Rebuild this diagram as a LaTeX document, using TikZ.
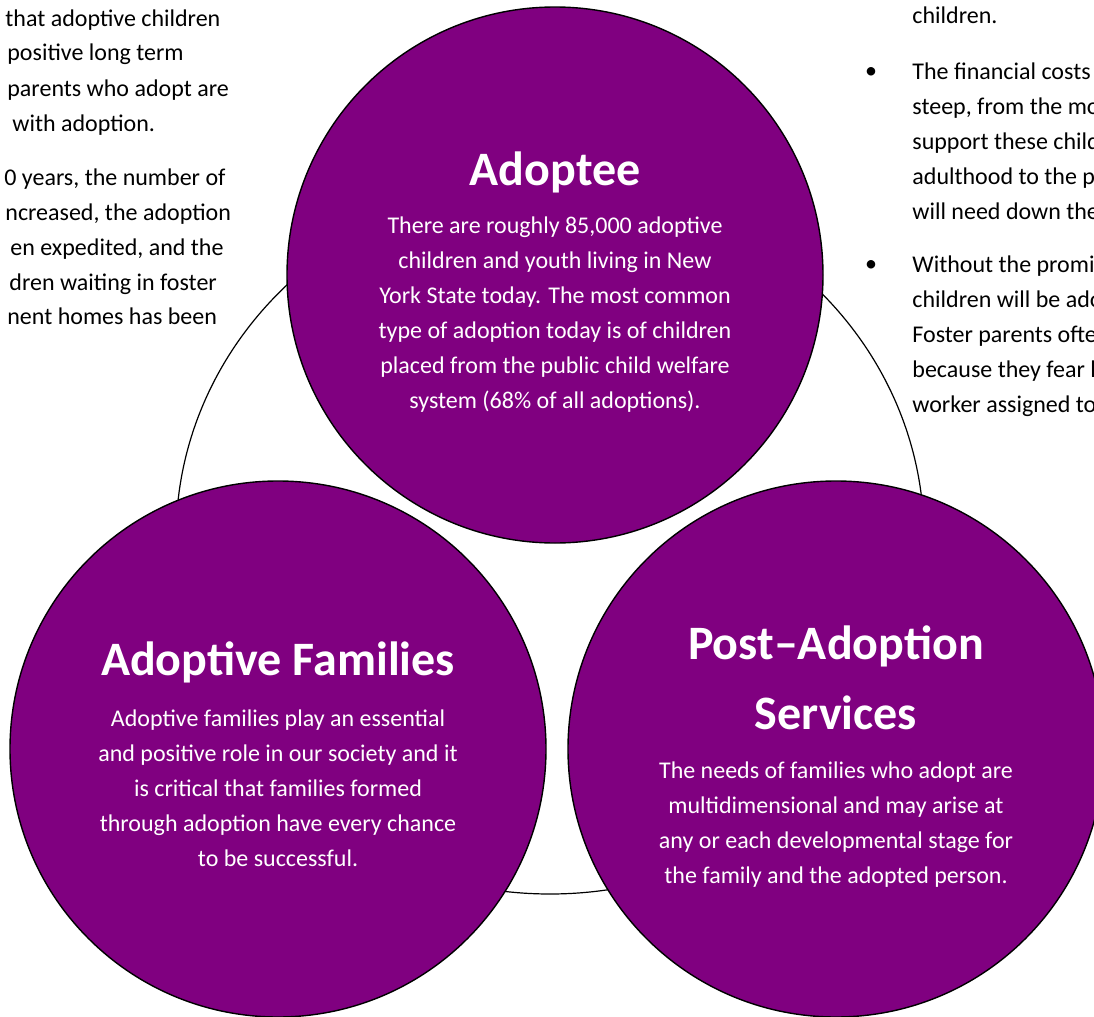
\documentclass[tikz,border=0pt]{standalone}
\usepackage{fontspec}
\setmainfont{Carlito}
\usepackage{tikz}
\usetikzlibrary{positioning,shapes.geometric}
\definecolor{plum}{HTML}{800080}
\tikzset{
  ring/.style={draw, ellipse, line width=0.6pt, fill=white, minimum width=374pt, minimum height=356pt, inner sep=0pt},
  hub/.style={draw, circle, line width=0.7pt, fill=plum, minimum size=268pt, inner sep=0pt},
  headline/.style={text=white, font=\fontsize{24}{35}\selectfont\bfseries, align=center, inner sep=0pt},
  blurb/.style={text=white, font=\fontsize{12}{17.5}\selectfont, align=center, inner sep=0pt},
  pagetext/.style={anchor=base west, font=\fontsize{12}{17.5}\selectfont, inner sep=0pt},
  dotmark/.style={font=\fontsize{12}{17.5}\selectfont, inner sep=0pt}
}

\begin{document}
\begin{tikzpicture}[x=0.5pt, y=-0.5pt]
  \clip (0,0) rectangle (1094,1017);

  % page text behind the diagram
  \node[pagetext] (l1) at (5,26) {that adoptive children};
  \node[pagetext] (l2) at (7,61) {positive long term};
  \node[pagetext] (l3) at (7,96) {parents who adopt are};
  \node[pagetext] (l4) at (12,131) {with adoption.};
  \node[pagetext] (l5) at (4,185) {0 years, the number of};
  \node[pagetext] (l6) at (5,220) {ncreased, the adoption};
  \node[pagetext] (l7) at (10,255) {en expedited, and the};
  \node[pagetext] (l8) at (9,290) {dren waiting in foster};
  \node[pagetext] (l9) at (7,324) {nent homes has been};

  \node[pagetext] (r0) at (912,24) {children.};
  \node[dotmark] (b1) at (871,73) {\textbullet};
  \node[pagetext] (r1) at (912,79) {The financial costs};
  \node[pagetext] (r2) at (912,114) {steep, from the mo};
  \node[pagetext] (r3) at (912,149) {support these child};
  \node[pagetext] (r4) at (912,184) {adulthood to the p};
  \node[pagetext] (r5) at (912,219) {will need down the};
  \node[dotmark] (b2) at (871,266) {\textbullet};
  \node[pagetext] (r6) at (912,272) {Without the promi};
  \node[pagetext] (r7) at (912,307) {children will be ado};
  \node[pagetext] (r8) at (912,342) {Foster parents ofte};
  \node[pagetext] (r9) at (912,377) {because they fear l};
  \node[pagetext] (r10) at (912,412) {worker assigned to};

  % outline ring and the three circles
  \node[ring] (back) at (550,538) {};
  \node[hub] (adoptee) at (555,275) {};
  \node[hub] (families) at (278,749) {};
  \node[hub] (services) at (836,749) {};

  \node[headline] (t1) at (555,172) {Adoptee};
  \node[blurb] (d1) at (555,314.5) {There are roughly 85,000 adoptive\\children and youth living in New\\York State today. The most common\\type of adoption today is of children\\placed from the public child welfare\\system (68\% of all adoptions).};

  \node[headline] (t2) at (278,662) {Adoptive Families};
  \node[blurb] (d2) at (278,788) {Adoptive families play an essential\\and positive role in our society and it\\is critical that families formed\\through adoption have every chance\\to be successful.};

  \node[headline] (t3) at (836,678) {Post–Adoption\\Services};
  \node[blurb] (d3) at (836,825) {The needs of families who adopt are\\multidimensional and may arise at\\any or each developmental stage for\\the family and the adopted person.};
\end{tikzpicture}
\end{document}
